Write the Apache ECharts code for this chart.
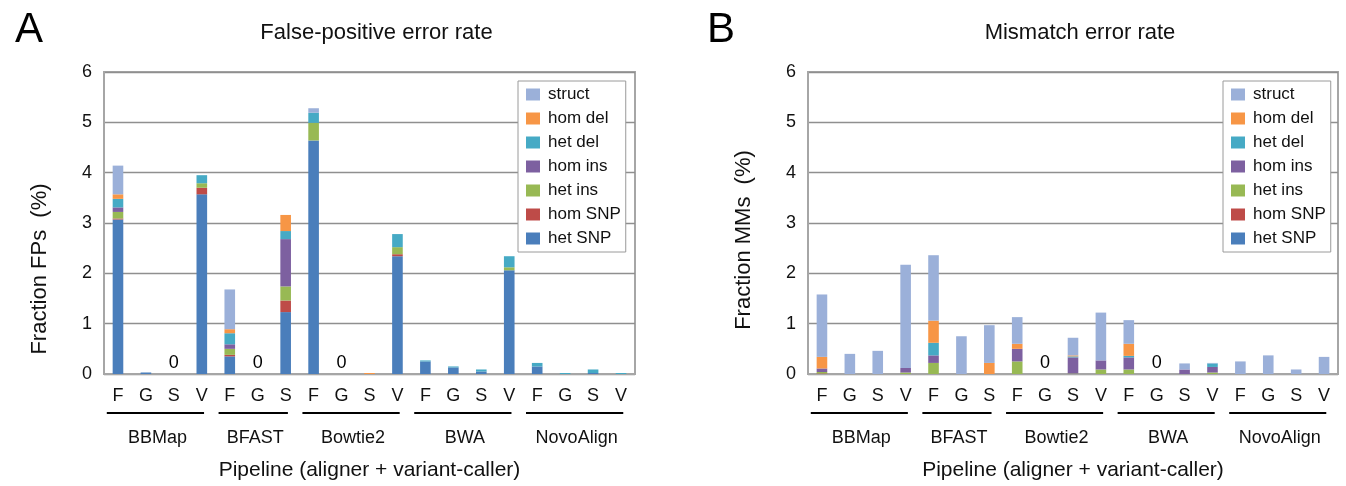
<!DOCTYPE html>
<html>
<head>
<meta charset="utf-8">
<script src="https://cdn.jsdelivr.net/npm/echarts@6/dist/echarts.min.js"></script>
<style>
html,body{margin:0;padding:0;background:#fff;}
#chart{width:1346px;height:486px;}
</style>
</head>
<body>
<div id="chart"></div>
<script>
// ---- data ----
const aligners = ['BBMap', 'BFAST', 'Bowtie2', 'BWA', 'NovoAlign'];
const callers = [['F','G','S','V'], ['F','G','S'], ['F','G','S','V'], ['F','G','S','V'], ['F','G','S','V']];
const yTicks = [0, 1, 2, 3, 4, 5, 6];
const seriesNames = ['het SNP', 'hom SNP', 'het ins', 'hom ins', 'het del', 'hom del', 'struct'];
const legendOrder = ['struct', 'hom del', 'het del', 'hom ins', 'het ins', 'hom SNP', 'het SNP'];

// Panel A: false-positive error rate (%)
const fpHetSNP = [3.07, 0.03, 0, 3.57, 0.35, 0, 1.23, 4.64, 0, 0, 2.34, 0.25, 0.13, 0.05, 2.06, 0.15, 0, 0.02, 0];
const fpHomSNP = [0.02, 0, 0, 0.13, 0.03, 0, 0.23, 0, 0, 0, 0.04, 0, 0, 0, 0, 0, 0, 0, 0];
const fpHetIns = [0.13, 0, 0, 0.09, 0.12, 0, 0.28, 0.35, 0, 0, 0.14, 0, 0, 0, 0.06, 0, 0, 0, 0];
const fpHomIns = [0.09, 0, 0, 0, 0.09, 0, 0.94, 0, 0, 0, 0, 0, 0, 0, 0, 0, 0, 0, 0];
const fpHetDel = [0.17, 0, 0, 0.16, 0.22, 0, 0.16, 0.20, 0, 0, 0.26, 0.02, 0.02, 0.04, 0.22, 0.07, 0.02, 0.07, 0.02];
const fpHomDel = [0.09, 0, 0, 0, 0.08, 0, 0.32, 0, 0, 0.02, 0, 0, 0, 0, 0, 0, 0, 0, 0];
const fpStruct = [0.57, 0, 0, 0, 0.79, 0, 0, 0.09, 0, 0, 0, 0, 0, 0, 0, 0, 0, 0, 0];

// Panel B: mismatch error rate (%)
const mmHetSNP = [0, 0, 0, 0, 0, 0, 0, 0, 0, 0, 0, 0, 0, 0, 0, 0, 0, 0, 0];
const mmHomSNP = [0.01, 0, 0, 0, 0, 0, 0, 0, 0, 0, 0, 0, 0, 0, 0, 0, 0, 0, 0];
const mmHetIns = [0.03, 0, 0, 0.03, 0.22, 0, 0, 0.25, 0, 0.01, 0.09, 0.09, 0, 0, 0.03, 0, 0, 0, 0];
const mmHomIns = [0.07, 0, 0, 0.09, 0.15, 0, 0, 0.25, 0, 0.32, 0.18, 0.24, 0, 0.09, 0.11, 0, 0, 0, 0];
const mmHetDel = [0, 0, 0, 0, 0.25, 0, 0, 0, 0, 0.02, 0, 0.03, 0, 0, 0.07, 0, 0, 0, 0];
const mmHomDel = [0.23, 0, 0, 0, 0.44, 0, 0.22, 0.10, 0, 0.02, 0, 0.24, 0, 0, 0, 0, 0, 0, 0];
const mmStruct = [1.24, 0.40, 0.46, 2.05, 1.30, 0.75, 0.75, 0.53, 0, 0.35, 0.95, 0.47, 0, 0.12, 0.01, 0.25, 0.37, 0.09, 0.34];

// ---- build ----
const FONT = '"Liberation Sans", Arial, sans-serif';
const colors = {
  'het SNP': '#4a7ebb', 'hom SNP': '#be4b48', 'het ins': '#98b954', 'hom ins': '#7d60a0',
  'het del': '#46aac5', 'hom del': '#f79646', 'struct': '#9bb0d9'
};
const categories = [];
const groupSpans = [];
aligners.forEach((a, k) => {
  const start = categories.length;
  callers[k].forEach(c => categories.push(a + ' ' + c));
  groupSpans.push([start, 0, categories.length - 1, k]);
});
const fpData = [fpHetSNP, fpHomSNP, fpHetIns, fpHomIns, fpHetDel, fpHomDel, fpStruct];
const mmData = [mmHetSNP, mmHomSNP, mmHetIns, mmHomIns, mmHetDel, mmHomDel, mmStruct];
function zeroCats(data) {
  const out = [];
  categories.forEach((c, i) => {
    let s = 0; data.forEach(arr => s += arr[i]);
    if (s === 0) out.push([i, 0]);
  });
  return out;
}

const chart = echarts.init(document.getElementById('chart'), null, {renderer: 'canvas'});

const grids = [
  {left: 104, top: 72, width: 531, height: 302},
  {left: 808, top: 72, width: 530, height: 302}
];
const titles = ['False-positive error rate', 'Mismatch error rate'];
const yNames = ['Fraction FPs  (%)', 'Fraction MMs  (%)'];
const panelLetters = ['A', 'B'];

function renderGroup(params, api) {
  const s = api.value(0), e = api.value(2), k = api.value(3);
  const w = api.size([1, 0])[0];
  const p0 = api.coord([s, 0]);
  const p1 = api.coord([e, 0]);
  const x0 = p0[0] - 0.40 * w, x1 = p1[0] + 0.08 * w;
  const y = p0[1] + 39;
  return {
    type: 'group',
    children: [
      {type: 'line', shape: {x1: x0, y1: y, x2: x1, y2: y}, style: {stroke: '#000', lineWidth: 2}},
      {type: 'text', x: (x0 + x1) / 2 + 2, y: y + 25,
        style: {text: aligners[k], font: '18px ' + FONT, fill: '#111', align: 'center', verticalAlign: 'middle'}}
    ]
  };
}
function renderZero(params, api) {
  const p = api.coord([api.value(0), api.value(1)]);
  return {type: 'text', x: p[0], y: p[1] - 11,
    style: {text: '0', font: '18px ' + FONT, fill: '#000', align: 'center', verticalAlign: 'middle'}};
}

const xAxes = [], yAxes = [], series = [], legends = [], titleArr = [], graphics = [];
[0, 1].forEach(p => {
  const g = grids[p];
  const cx = g.left + g.width / 2;
  xAxes.push({
    gridIndex: p, type: 'category', data: categories,
    axisTick: {show: false},
    axisLine: {lineStyle: {color: '#a6a6a6', width: 2}},
    axisLabel: {interval: 0, formatter: v => v.split(' ').pop(), fontSize: 18, color: '#111', fontFamily: FONT, margin: 13},
    name: 'Pipeline (aligner + variant-caller)', nameLocation: 'middle', nameGap: 86,
    nameTextStyle: {fontSize: 21, color: '#111', fontFamily: FONT}
  });
  yAxes.push({
    gridIndex: p, type: 'value', min: yTicks[0], max: yTicks[yTicks.length - 1], interval: 1,
    axisLine: {show: true, lineStyle: {color: '#a6a6a6', width: 2}},
    axisTick: {show: false},
    axisLabel: {fontSize: 18, color: '#111', fontFamily: FONT, margin: 12},
    splitLine: {lineStyle: {color: '#8f8f8f', width: 1.4}}
  });
  const data = p === 0 ? fpData : mmData;
  seriesNames.forEach((n, i) => {
    series.push({
      name: n, type: 'bar', xAxisIndex: p, yAxisIndex: p, stack: 'p' + p,
      data: data[i], barWidth: '38%', itemStyle: {color: colors[n]}, silent: true
    });
  });
  series.push({
    type: 'custom', xAxisIndex: p, yAxisIndex: p, data: zeroCats(data),
    encode: {x: 0, y: 1}, renderItem: renderZero, clip: false, silent: true, z: 5
  });
  series.push({
    type: 'custom', xAxisIndex: p, yAxisIndex: p, data: groupSpans,
    encode: {x: 0, y: 1}, renderItem: renderGroup, clip: false, silent: true, z: 5
  });
  legends.push({
    data: legendOrder, orient: 'vertical', left: p === 0 ? 518 : 1223, top: 81,
    backgroundColor: '#fff', borderColor: '#9a9a9a', borderWidth: 1,
    padding: [5, 5, 5, 8], itemWidth: 14, itemHeight: 12, itemGap: 7, icon: 'rect',
    selectedMode: false,
    textStyle: {fontSize: 17, color: '#111', fontFamily: FONT, lineHeight: 17, padding: [0, 0, 0, 3]}
  });
  titleArr.push({
    text: titles[p], left: cx + 2, top: 17, textAlign: 'center',
    textStyle: {fontSize: 22, fontWeight: 'normal', color: '#111', fontFamily: FONT}
  });
  titleArr.push({
    text: panelLetters[p], left: p === 0 ? 10 : 702, top: 4,
    textStyle: {fontSize: 42, fontWeight: 'normal', color: '#000', fontFamily: FONT}
  });
  graphics.push({
    type: 'text', x: p === 0 ? 40 : 744, y: p === 0 ? 269 : 240, rotation: Math.PI / 2,
    style: {text: yNames[p], font: '22px ' + FONT, fill: '#111', align: 'center', verticalAlign: 'middle'}
  });
});

chart.setOption({
  animation: false,
  backgroundColor: '#fff',
  title: titleArr,
  grid: grids.map(g => Object.assign({show: true, borderColor: '#a6a6a6', borderWidth: 2, containLabel: false}, g)),
  xAxis: xAxes,
  yAxis: yAxes,
  legend: legends,
  series: series,
  graphic: graphics
});
</script>
</body>
</html>
